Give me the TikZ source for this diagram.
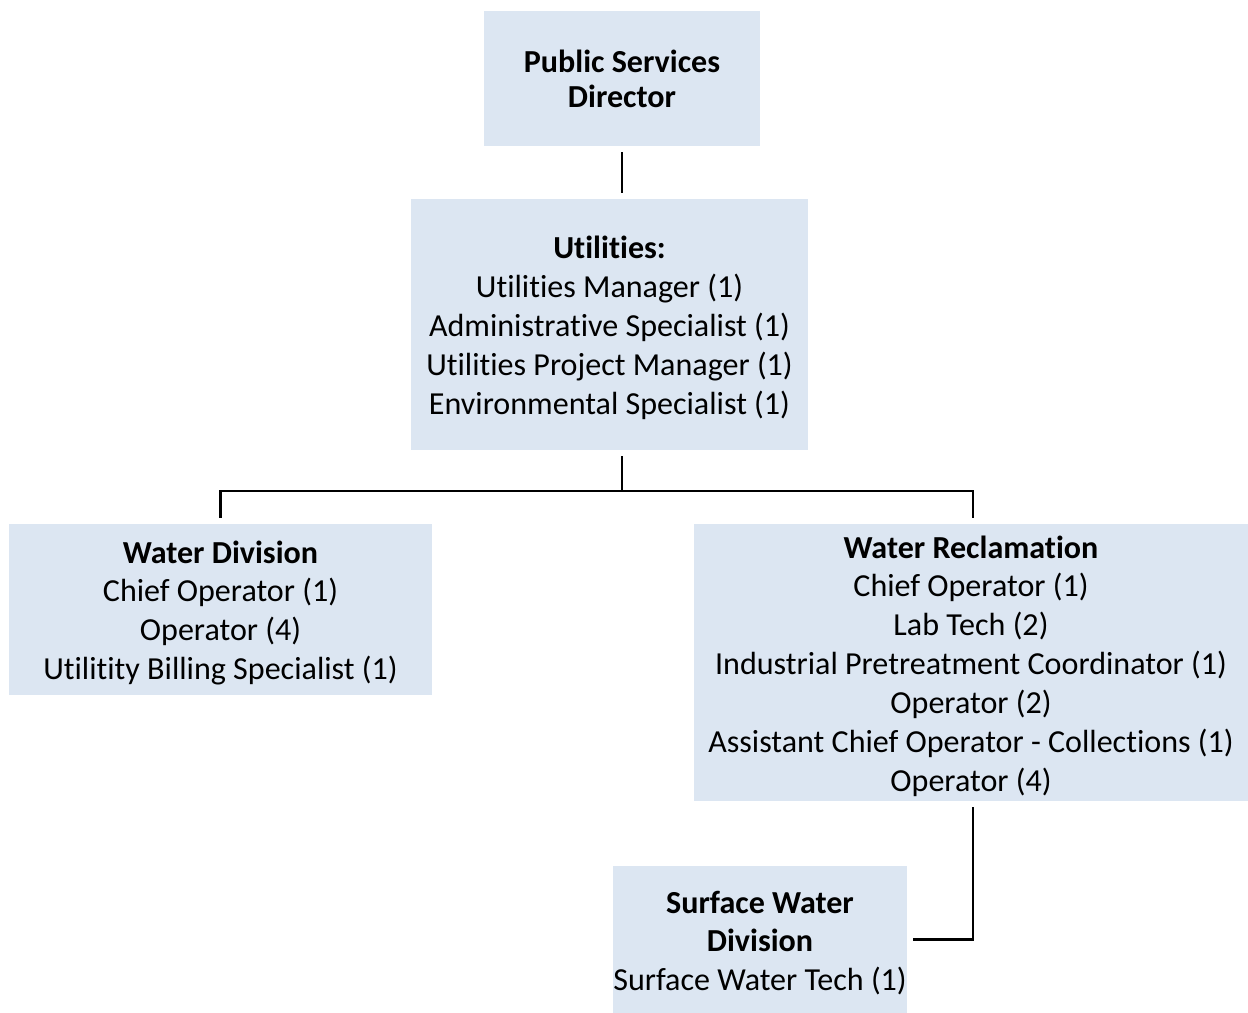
\documentclass[tikz,border=0pt]{standalone}
\usepackage{fontspec}
\setmainfont{Carlito}[Ligatures=NoCommon]
\usepackage{xcolor}
\usetikzlibrary{positioning}

\definecolor{boxblue}{HTML}{DCE6F2}
% extra room above the first line, pushes the text a little down
\newcommand\headstrut{\rule{0pt}{\dimexpr\fontcharht\font`l+4pt\relax}}

\tikzset{
  unit/.style={fill=boxblue, align=center, inner sep=0pt,
    font=\fontsize{18.25}{22.1}\selectfont},
  link/.style={line width=1.6pt, black}
}

\begin{document}
\begin{tikzpicture}[x=0.02cm, y=-0.02cm]
  \useasboundingbox (0,0) rectangle (1248,1013);
  % Boxes
  \node[unit, minimum width=5.52cm, minimum height=2.7cm] (director) at (622,78.5)
    {\textbf{Public Services}\\[-0.08cm]\textbf{Director}};
  \node[unit, minimum width=7.94cm, minimum height=5.02cm] (util) at (609.5,324.5)
    {\headstrut\textbf{Utilities:}\\Utilities Manager (1)\\Administrative Specialist (1)\\
     Utilities Project Manager (1)\\Environmental Specialist (1)};
  \node[unit, minimum width=8.46cm, minimum height=3.42cm] (wdiv) at (220.5,609.5)
    {\headstrut\textbf{Water Division}\\Chief Operator (1)\\Operator (4)\\
     Utilitity Billing Specialist (1)};
  \node[unit, minimum width=11.08cm, minimum height=5.54cm] (wrec) at (971,662.5)
    {\headstrut\textbf{Water Reclamation}\\Chief Operator (1)\\Lab Tech (2)\\
     Industrial Pretreatment Coordinator (1)\\Operator (2)\\
     Assistant Chief Operator - Collections (1)\\Operator (4)};
  \node[unit, minimum width=5.88cm, minimum height=2.94cm] (swd) at (760,939.5)
    {\headstrut\textbf{Surface Water}\\\textbf{Division}\\Surface Water Tech (1)};
  % Connectors
  \coordinate (split) at (622,491);
  \draw[link, shorten <=0.12cm, shorten >=0.12cm] (director) -- (director |- util.north);
  \draw[link, shorten <=0.12cm] (util.south -| split) -- (split);
  \draw[link, shorten >=0.12cm] (split) -| (wdiv.north);
  \draw[link, shorten >=0.12cm] (split) -| ([xshift=0.04cm]wrec.north);
  \draw[link, shorten <=0.12cm, shorten >=0.12cm] ([xshift=0.04cm]wrec.south) |- (swd.east);
\end{tikzpicture}
\end{document}
